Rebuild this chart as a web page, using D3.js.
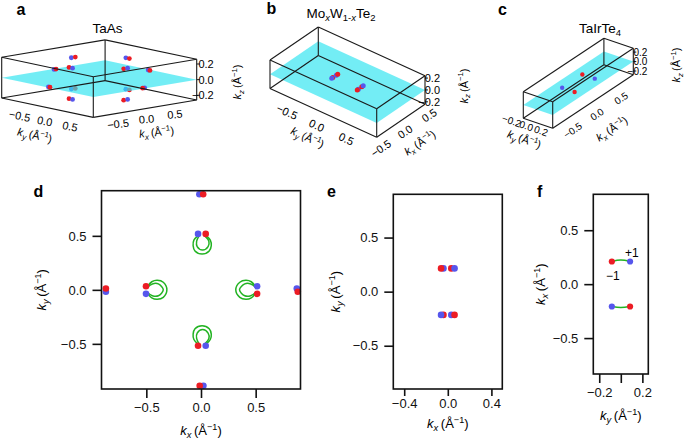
<!DOCTYPE html>
<html>
<head>
<meta charset="utf-8">
<script src="https://cdn.jsdelivr.net/npm/d3@7"></script>
<style>
body { margin: 0; background: #fff; }
svg { display: block; font-family: "Liberation Sans", Arial, sans-serif; }
</style>
</head>
<body>
<svg id="fig" width="685" height="441"></svg>
<script>
// ---- data ----
// chirality: -1 red, +1 blue
// TaAs Weyl nodes in 3D, [kx, ky, kz, chirality]
const taasWeyl3d = [
    [-0.03, -0.52, -0.2, 1], [0.04, -0.52, -0.2, -1],
    [-0.5, -0.035, -0.2, -1], [-0.5, 0.035, -0.2, 1],
    [0.5, -0.035, -0.2, 1], [0.5, 0.035, -0.2, -1],
    [-0.03, 0.52, -0.2, -1], [0.04, 0.52, -0.2, 1],
    [-0.88, -0.015, 0, 1], [-0.88, 0.015, 0, -1],
    [-0.015, -0.88, 0, 1], [0.02, -0.88, 0, -1],
    [0.88, -0.02, 0, 1], [0.88, 0.015, 0, -1],
    [0.02, 0.88, 0, 1], [-0.015, 0.88, 0, -1],
    [-0.03, -0.52, 0.2, 1], [0.04, -0.52, 0.2, -1],
    [-0.5, -0.035, 0.2, -1], [-0.5, 0.035, 0.2, 1],
    [0.5, -0.035, 0.2, 1], [0.5, 0.035, 0.2, -1],
    [-0.03, 0.52, 0.2, -1], [0.04, 0.52, 0.2, 1]
]
// TaAs projected nodes (panel d), [kx, ky, chirality]
const taasWeylProj = [
    [-0.015, 0.885, 1], [0.02, 0.885, -1],
    [-0.027, 0.518, 1], [0.043, 0.518, -1],
    [0.043, -0.518, 1], [-0.027, -0.518, -1],
    [0.022, -0.888, 1], [-0.012, -0.888, -1],
    [-0.87, -0.018, 1], [-0.87, 0.012, -1],
    [-0.503, -0.037, 1], [-0.503, 0.034, -1],
    [0.513, 0.034, 1], [0.513, -0.037, -1],
    [0.876, 0.013, 1], [0.885, -0.018, -1]
]
// TaAs Fermi arcs (panel d), [kx, ky]
const arcTopOuter = [[-0.03, 0.5], [-0.065, 0.46], [-0.072, 0.41], [-0.055, 0.36], [0.01, 0.332], [0.075, 0.36], [0.094, 0.41], [0.085, 0.46], [0.05, 0.5]]
const arcTopInner = [[-0.02, 0.495], [-0.04, 0.45], [-0.035, 0.4], [0.015, 0.368], [0.065, 0.4], [0.072, 0.45], [0.04, 0.495]]
const arcBotOuter = [[-0.03, -0.5], [-0.065, -0.46], [-0.072, -0.41], [-0.055, -0.36], [0.01, -0.332], [0.075, -0.36], [0.094, -0.41], [0.085, -0.46], [0.05, -0.5]]
const arcBotInner = [[-0.02, -0.495], [-0.04, -0.45], [-0.035, -0.4], [0.015, -0.368], [0.065, -0.4], [0.072, -0.45], [0.04, -0.495]]
const arcLeftOuter = [[-0.49, 0.03], [-0.45, 0.075], [-0.4, 0.088], [-0.345, 0.07], [-0.312, 0], [-0.345, -0.07], [-0.4, -0.088], [-0.45, -0.075], [-0.49, -0.03]]
const arcLeftInner = [[-0.49, 0.025], [-0.445, 0.055], [-0.39, 0.055], [-0.345, 0], [-0.39, -0.055], [-0.445, -0.055], [-0.49, -0.025]]
const arcRightOuter = [[0.5, 0.03], [0.46, 0.075], [0.41, 0.088], [0.355, 0.07], [0.318, 0], [0.355, -0.07], [0.41, -0.088], [0.46, -0.075], [0.5, -0.03]]
const arcRightInner = [[0.5, 0.025], [0.455, 0.055], [0.4, 0.055], [0.352, 0], [0.4, -0.055], [0.455, -0.055], [0.5, -0.025]]
const taasArcs = [arcTopOuter, arcTopInner, arcBotOuter, arcBotInner, arcLeftOuter, arcLeftInner, arcRightOuter, arcRightInner]

// MoxW1-xTe2 nodes at kz = 0, [kx, ky, chirality]
const moteWeyl = [
    [-0.04, 0.215, 1], [-0.062, 0.215, -1], [0.032, 0.215, -1], [0.062, 0.215, 1],
    [-0.04, -0.215, -1], [-0.062, -0.215, 1], [0.032, -0.215, 1], [0.062, -0.215, -1]
]

// TaIrTe4 nodes at kz = 0, [ky, kx, chirality]
const tairWeyl = [
    [-0.083, 0.21, -1], [0.086, 0.21, 1],
    [-0.083, -0.207, 1], [0.086, -0.207, -1]
]
// TaIrTe4 arcs (panel f), [ky, kx]
const tairArcUp = [[-0.083, 0.21], [0, 0.223], [0.086, 0.21]]
const tairArcDown = [[-0.083, -0.207], [0, -0.217], [0.086, -0.207]]
const tairLabels = [['+1', 0.102, 0.29], ['\u22121', -0.074, 0.08]]

// tick values
const ticksHalf = [-0.5, 0, 0.5]
const ticksZ = [-0.2, 0, 0.2]
const ticksE = [-0.4, 0, 0.4]
const ticksF = [-0.2, 0, 0.2]
const ticksC = [-0.2, 0, 0.2]

// ---- style ----
const RED = '#ec1c24'
const BLUE = '#5656ec'
const GREEN = '#22b322'
const CYAN = '#30e4f0'
const chirColor = c => c < 0 ? RED : BLUE
const fmt = d3.format('.1f')

const svg = d3.select('#fig')

// k_x (Å^-1) style label
const kTitle = (sel, sub, size) => {
    const t = sel.append('text').attr('font-size', size).attr('text-anchor', 'middle')
    t.append('tspan').attr('font-style', 'italic').text('k')
    t.append('tspan').attr('font-style', 'italic').attr('font-size', size * 0.72).attr('dy', size * 0.25).text(sub)
    t.append('tspan').attr('dy', -size * 0.25).text('\u2009(\u00c5')
    t.append('tspan').attr('font-size', size * 0.7).attr('dy', -size * 0.4).text('\u22121')
    t.append('tspan').attr('dy', size * 0.4).text(')')
    return t
}

const panelLetter = (txt, x, y) => svg.append('text')
    .attr('x', x).attr('y', y)
    .attr('font-size', 16).attr('font-weight', 'bold')
    .text(txt)

// ---- 3D boxes ----
const drawBox = (cfg, weyl) => {
    const g = svg.append('g')
    const fx = d3.scaleLinear().domain(cfg.kx).range([0, 1])
    const fy = d3.scaleLinear().domain(cfg.ky).range([0, 1])
    const fz = d3.scaleLinear().domain(cfg.kz).range([0, 1])
    const P = (a, b, c) => [
        cfg.o[0] + fx(a) * cfg.ex[0] + fy(b) * cfg.ey[0] + fz(c) * cfg.ez[0],
        cfg.o[1] + fx(a) * cfg.ex[1] + fy(b) * cfg.ey[1] + fz(c) * cfg.ez[1]
    ]
    const [x0, x1] = cfg.kx
    const [y0, y1] = cfg.ky
    const [z0, z1] = cfg.kz

    const dot = sel => sel
        .attr('cx', d => P(d[0], d[1], d[2])[0])
        .attr('cy', d => P(d[0], d[1], d[2])[1])
        .attr('r', cfg.r)
        .attr('fill', d => chirColor(d[3]))

    // nodes below the plane, plane, nodes on / above
    g.selectAll('circle.lo').data(weyl.filter(d => d[2] < 0)).join('circle').attr('class', 'lo').call(dot)
    g.append('path')
        .attr('d', d3.line()([P(x0, y0, 0), P(x1, y0, 0), P(x1, y1, 0), P(x0, y1, 0)]) + 'Z')
        .attr('fill', CYAN)
        .attr('opacity', 0.68)
    g.selectAll('circle.hi').data(weyl.filter(d => d[2] >= 0)).join('circle').attr('class', 'hi').call(dot)

    // wireframe
    const edges = []
    for (const b of [y0, y1]) for (const c of [z0, z1]) edges.push([[x0, b, c], [x1, b, c]])
    for (const a of [x0, x1]) for (const c of [z0, z1]) edges.push([[a, y0, c], [a, y1, c]])
    for (const a of [x0, x1]) for (const b of [y0, y1]) edges.push([[a, b, z0], [a, b, z1]])
    g.selectAll('line.edge').data(edges).join('line')
        .attr('class', 'edge')
        .attr('x1', d => P(...d[0])[0]).attr('y1', d => P(...d[0])[1])
        .attr('x2', d => P(...d[1])[0]).attr('y2', d => P(...d[1])[1])
        .attr('stroke', '#1a1a1a').attr('stroke-width', 1.1)

    // kz axis on the right vertical edge
    g.selectAll('line.zt').data(cfg.zTicks).join('line')
        .attr('class', 'zt')
        .attr('x1', d => P(x1, y1, d)[0]).attr('x2', d => P(x1, y1, d)[0] + 3)
        .attr('y1', d => P(x1, y1, d)[1]).attr('y2', d => P(x1, y1, d)[1])
        .attr('stroke', '#1a1a1a')
    g.selectAll('text.zl').data(cfg.zTicks).join('text')
        .attr('class', 'zl')
        .attr('x', d => P(x1, y1, d)[0] + cfg.zDx)
        .attr('y', d => P(x1, y1, d)[1])
        .attr('dy', '0.35em').attr('text-anchor', 'end')
        .attr('font-size', cfg.fs)
        .text(fmt)

    // ky axis along the front-left bottom edge
    g.selectAll('text.yl').data(cfg.yTicks).join('text')
        .attr('class', 'yl')
        .attr('transform', d => {
            const p = P(x0, d, z0)
            return `translate(${p[0] + cfg.yOff[0]},${p[1] + cfg.yOff[1]}) rotate(${cfg.yRot})`
        })
        .attr('dy', '0.35em').attr('text-anchor', 'middle')
        .attr('font-size', cfg.fs)
        .text(fmt)

    // kx axis along the front-right bottom edge
    g.selectAll('text.xl').data(cfg.xTicks).join('text')
        .attr('class', 'xl')
        .attr('transform', d => {
            const p = P(d, y1, z0)
            return `translate(${p[0] + cfg.xOff[0]},${p[1] + cfg.xOff[1]}) rotate(${cfg.xRot})`
        })
        .attr('dy', '0.35em').attr('text-anchor', 'middle')
        .attr('font-size', cfg.fs)
        .text(fmt)

    kTitle(g, 'y', 11).attr('transform', `translate(${cfg.yTitle[0]},${cfg.yTitle[1]}) rotate(${cfg.yRot})`)
    kTitle(g, 'x', 11).attr('transform', `translate(${cfg.xTitle[0]},${cfg.xTitle[1]}) rotate(${cfg.xRot})`)
    kTitle(g, 'z', 11).attr('transform', `translate(${cfg.zTitle[0]},${cfg.zTitle[1]}) rotate(-90)`)
}

// panel a
drawBox({
    o: [1.7, 98], ex: [103.4, -17.4], ey: [91.6, 19.4], ez: [0, -40.7],
    kx: [-0.91, 0.91], ky: [-0.91, 0.91], kz: [-0.26, 0.26], r: 2.4, fs: 11,
    zTicks: ticksZ, xTicks: ticksHalf, yTicks: ticksHalf,
    zDx: 17, yOff: [-2.6, 13.5], yRot: 12, xOff: [1.5, 10.5], xRot: -6,
    yTitle: [34, 139], xTitle: [157, 136], zTitle: [241, 82]
}, taasWeyl3d)

// panel b
drawBox({
    o: [270, 88.5], ex: [48.3, -33], ey: [106.7, 48.7], ez: [0, -28.5],
    kx: [-0.5, 0.5], ky: [-0.9, 0.9], kz: [-0.24, 0.24], r: 2.5, fs: 11,
    zTicks: ticksZ, xTicks: ticksHalf, yTicks: ticksHalf,
    zDx: 15, yOff: [-6.7, 12.7], yRot: 25, xOff: [4.3, 11.2], xRot: -34,
    yTitle: [306, 141], xTitle: [422, 146], zTitle: [467.5, 86]
}, moteWeyl.map(d => [d[0], d[1], 0, d[2]]))

// panel c
drawBox({
    o: [523.3, 118.2], ex: [80.6, -53.4], ey: [29.4, 10], ez: [0, -26.5],
    kx: [-0.833, 0.833], ky: [-0.2, 0.2], kz: [-0.28, 0.28], r: 2.2, fs: 10,
    zTicks: ticksZ, xTicks: ticksHalf, yTicks: ticksC,
    zDx: 14, yOff: [-11.7, 2.8], yRot: 19, xOff: [4, 12.8], xRot: -33.5,
    yTitle: [523, 143], xTitle: [614, 132], zTitle: [680, 65]
}, tairWeyl.map(d => [d[1], d[0], 0, d[2]]))

// titles
svg.append('text').attr('x', 107.5).attr('y', 33).attr('text-anchor', 'middle').attr('font-size', 13.5).text('TaAs')
const moTitle = svg.append('text').attr('x', 341).attr('y', 18).attr('text-anchor', 'middle').attr('font-size', 13.5)
moTitle.append('tspan').text('Mo')
moTitle.append('tspan').attr('font-size', 9.5).attr('font-style', 'italic').attr('dy', 3).text('x')
moTitle.append('tspan').attr('dy', -3).text('W')
moTitle.append('tspan').attr('font-size', 9.5).attr('dy', 3).text('1-')
moTitle.append('tspan').attr('font-size', 9.5).attr('font-style', 'italic').text('x')
moTitle.append('tspan').attr('dy', -3).text('Te')
moTitle.append('tspan').attr('font-size', 9.5).attr('dy', 3).text('2')
const irTitle = svg.append('text').attr('x', 600).attr('y', 32.5).attr('text-anchor', 'middle').attr('font-size', 13.5)
irTitle.append('tspan').text('TaIrTe')
irTitle.append('tspan').attr('font-size', 9.5).attr('dy', 3).text('4')

// ---- 2D panels ----
const drawFlat = cfg => {
    const g = svg.append('g')
    const x = d3.scaleLinear().domain(cfg.xDom).range(cfg.xRange)
    const y = d3.scaleLinear().domain(cfg.yDom).range(cfg.yRange)

    const line = d3.line().x(d => x(d[0])).y(d => y(d[1])).curve(d3.curveCatmullRom)
    g.selectAll('path.arc').data(cfg.arcs).join('path')
        .attr('class', 'arc')
        .attr('d', line)
        .attr('fill', 'none').attr('stroke', GREEN).attr('stroke-width', 1.5)

    g.selectAll('circle').data(cfg.dots).join('circle')
        .attr('cx', d => x(d[0])).attr('cy', d => y(d[1]))
        .attr('r', cfg.r)
        .attr('fill', d => chirColor(d[2]))

    g.append('rect')
        .attr('x', cfg.xRange[0]).attr('y', cfg.yRange[1])
        .attr('width', cfg.xRange[1] - cfg.xRange[0])
        .attr('height', cfg.yRange[0] - cfg.yRange[1])
        .attr('fill', 'none').attr('stroke', '#111').attr('stroke-width', 1.6)

    const style = a => {
        a.select('.domain').remove()
        a.selectAll('line').attr('stroke', '#111').attr('stroke-width', 1.6)
        a.selectAll('text').attr('font-size', 13).attr('font-family', null).attr('fill', '#111')
    }
    g.append('g')
        .attr('transform', `translate(0,${cfg.yRange[0]})`)
        .call(d3.axisBottom(x).tickValues(cfg.xTicks).tickSize(cfg.xTickLen).tickPadding(cfg.xPad)
            .tickFormat(d => cfg.xSkip.includes(d) ? '' : fmt(d)))
        .call(style)
    g.append('g')
        .attr('transform', `translate(${cfg.xRange[0]},0)`)
        .call(d3.axisLeft(y).tickValues(cfg.yTicks).tickSize(9).tickPadding(6).tickFormat(fmt))
        .call(style)

    kTitle(g, cfg.xName, 13).attr('x', d3.mean(cfg.xRange)).attr('y', cfg.xTitleY)
    kTitle(g, cfg.yName, 13).attr('transform', `translate(${cfg.yTitleX},${d3.mean(cfg.yRange)}) rotate(-90)`)
    return { g, x, y }
}

// panel d
drawFlat({
    xDom: [-0.91, 0.91], xRange: [101.5, 300.5],
    yDom: [-0.918, 0.918], yRange: [389, 190.7],
    xTicks: ticksHalf, yTicks: ticksHalf, xSkip: [], xTickLen: 9, xPad: 5,
    dots: taasWeylProj, arcs: taasArcs, r: 3.3,
    xName: 'x', yName: 'y', xTitleY: 435, yTitleX: 46
})

// panel e
drawFlat({
    xDom: [-0.5, 0.5], xRange: [393.3, 502.3],
    yDom: [-0.9, 0.9], yRange: [389, 194.3],
    xTicks: ticksE, yTicks: ticksHalf, xSkip: [], xTickLen: 7, xPad: 3,
    dots: moteWeyl.map(d => [d[0], d[1], d[2]]), arcs: [], r: 3.3,
    xName: 'x', yName: 'y', xTitleY: 428, yTitleX: 340
})

// panel f
const f = drawFlat({
    xDom: [-0.255, 0.255], xRange: [593.3, 648.3],
    yDom: [-0.833, 0.833], yRange: [374, 194.3],
    xTicks: ticksF, yTicks: ticksHalf, xSkip: [0], xTickLen: 9, xPad: 5,
    dots: tairWeyl, arcs: [tairArcUp, tairArcDown], r: 3.1,
    xName: 'y', yName: 'x', xTitleY: 420, yTitleX: 545
})
f.g.selectAll('text.chir').data(tairLabels).join('text')
    .attr('class', 'chir')
    .attr('x', d => f.x(d[1])).attr('y', d => f.y(d[2]))
    .attr('dy', '0.35em').attr('text-anchor', 'middle')
    .attr('font-size', 12)
    .text(d => d[0])

// panel letters
panelLetter('a', 16.5, 15)
panelLetter('b', 266.5, 13.5)
panelLetter('c', 498, 15)
panelLetter('d', 33.5, 196.5)
panelLetter('e', 327, 197)
panelLetter('f', 537, 197)
</script>
</body>
</html>
